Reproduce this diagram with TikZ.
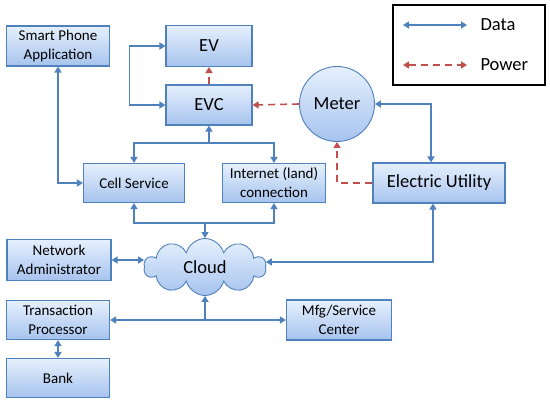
\documentclass[tikz,border=0pt]{standalone}
\usepackage{fontspec}
\setmainfont{Carlito}
\usetikzlibrary{arrows.meta,shapes.symbols,positioning}

\definecolor{boxline}{HTML}{4F81BD}
\definecolor{boxtop}{HTML}{E6F0FD}
\definecolor{boxbot}{HTML}{A6C3EE}
\definecolor{pwrred}{HTML}{C0504D}

\tikzset{
  box/.style={draw=boxline, line width=1.1pt, top color=boxtop, bottom color=boxbot,
    align=center, inner sep=1pt, font=\fontsize{15}{19}\selectfont},
  bigbox/.style={box, font=\fontsize{18.5}{22}\selectfont},
  data/.style={draw=boxline, line width=1.6pt, {Triangle[length=6pt,width=7pt]}-{Triangle[length=6pt,width=7pt]}},
  dataone/.style={draw=boxline, line width=1.6pt, -{Triangle[length=6pt,width=7pt]}},
  power/.style={draw=pwrred, line width=1.6pt, dash pattern=on 7pt off 5pt, -{Triangle[length=6pt,width=7pt]}},
  powertwo/.style={power, {Triangle[length=6pt,width=7pt]}-{Triangle[length=6pt,width=7pt]}}
}

\begin{document}
\begin{tikzpicture}[x=1pt, y=-1pt]
\useasboundingbox (0,0) rectangle (550,405);

% boxes
\node [box, minimum width=103pt, minimum height=40pt] (phone) at (58,46) {Smart Phone\\Application};
\node [bigbox, minimum width=86pt, minimum height=41pt] (ev) at (209,46) {EV};
\node [bigbox, minimum width=86pt, minimum height=40pt] (evc) at (209,105) {EVC};
\node [bigbox, circle, line width=0.9pt, minimum size=75pt, inner sep=0pt] (meter) at (337,104) {Meter};
\node [box, minimum width=101pt, minimum height=39pt] (cell) at (134,183) {Cell Service};
\node [box, minimum width=103pt, minimum height=39pt] (net) at (274,183) {Internet (land)\\connection};
\node [bigbox, minimum width=132pt, minimum height=40pt] (util) at (439,183) {Electric Utility};
\node [box, minimum width=104pt, minimum height=41pt] (admin) at (59,260) {Network\\Administrator};
\node [bigbox, cloud, cloud puffs=10, aspect=2.2, inner sep=0pt, line width=0.9pt,
       minimum width=122pt, minimum height=57pt] (cloud) at (205,267) {Cloud};
\node [box, minimum width=103pt, minimum height=39pt] (trans) at (58,320) {Transaction\\Processor};
\node [box, minimum width=103pt, minimum height=39pt] (bank) at (58,378) {Bank};
\node [box, minimum width=105pt, minimum height=40pt] (mfg) at (339,320) {Mfg/Service\\Center};

% legend
\node [draw=black, line width=1.2pt, minimum width=152pt, minimum height=80pt] (legend) at (469,45) {};
\coordinate (data a) at (403,25);
\coordinate (data b) at (467,25);
\coordinate (power a) at (403,65);
\coordinate (power b) at (467,65);
\node [anchor=west, font=\fontsize{18.5}{22}\selectfont] (data label) at (477,25) {Data};
\node [anchor=west, font=\fontsize{18.5}{22}\selectfont] (power label) at (477,65) {Power};
\draw [data] (data a) -- (data b);
\draw [powertwo] (power a) -- (power b);

% data links
\draw [data] (phone.south) |- (cell.west);
\draw [data] (ev.west) -- ++(-36,0) |- (evc.west);
\draw [data] (cell.north) |- ([yshift=20pt]net.north) -- (net.north);
\draw [dataone] ([yshift=20pt]cell.north -| evc.south) -- (evc.south);
\draw [data] (cell.south) |- ([yshift=-20pt]net.south) -- (net.south);
\draw [dataone] ([yshift=-20pt]cell.south -| cloud.north) -- (cloud.north);
\draw [data] (meter.east) -| ([xshift=-8pt]util.north);
\draw [data] ([xshift=-6pt]util.south) |- ([yshift=5pt]cloud.east);
\draw [data] (admin.east) -- (admin.east -| cloud.west);
\draw [data] (trans.east) -- (mfg.west);
\draw [dataone] (cloud.south |- trans.east) -- (cloud.south);
\draw [data] (trans.south) -- (bank.north);

% power links
\draw [power] (evc.north) -- (ev.south);
\draw [power] (meter.west) -- (evc.east);
\draw [power] (util.west) -| (meter.south);
\end{tikzpicture}
\end{document}
